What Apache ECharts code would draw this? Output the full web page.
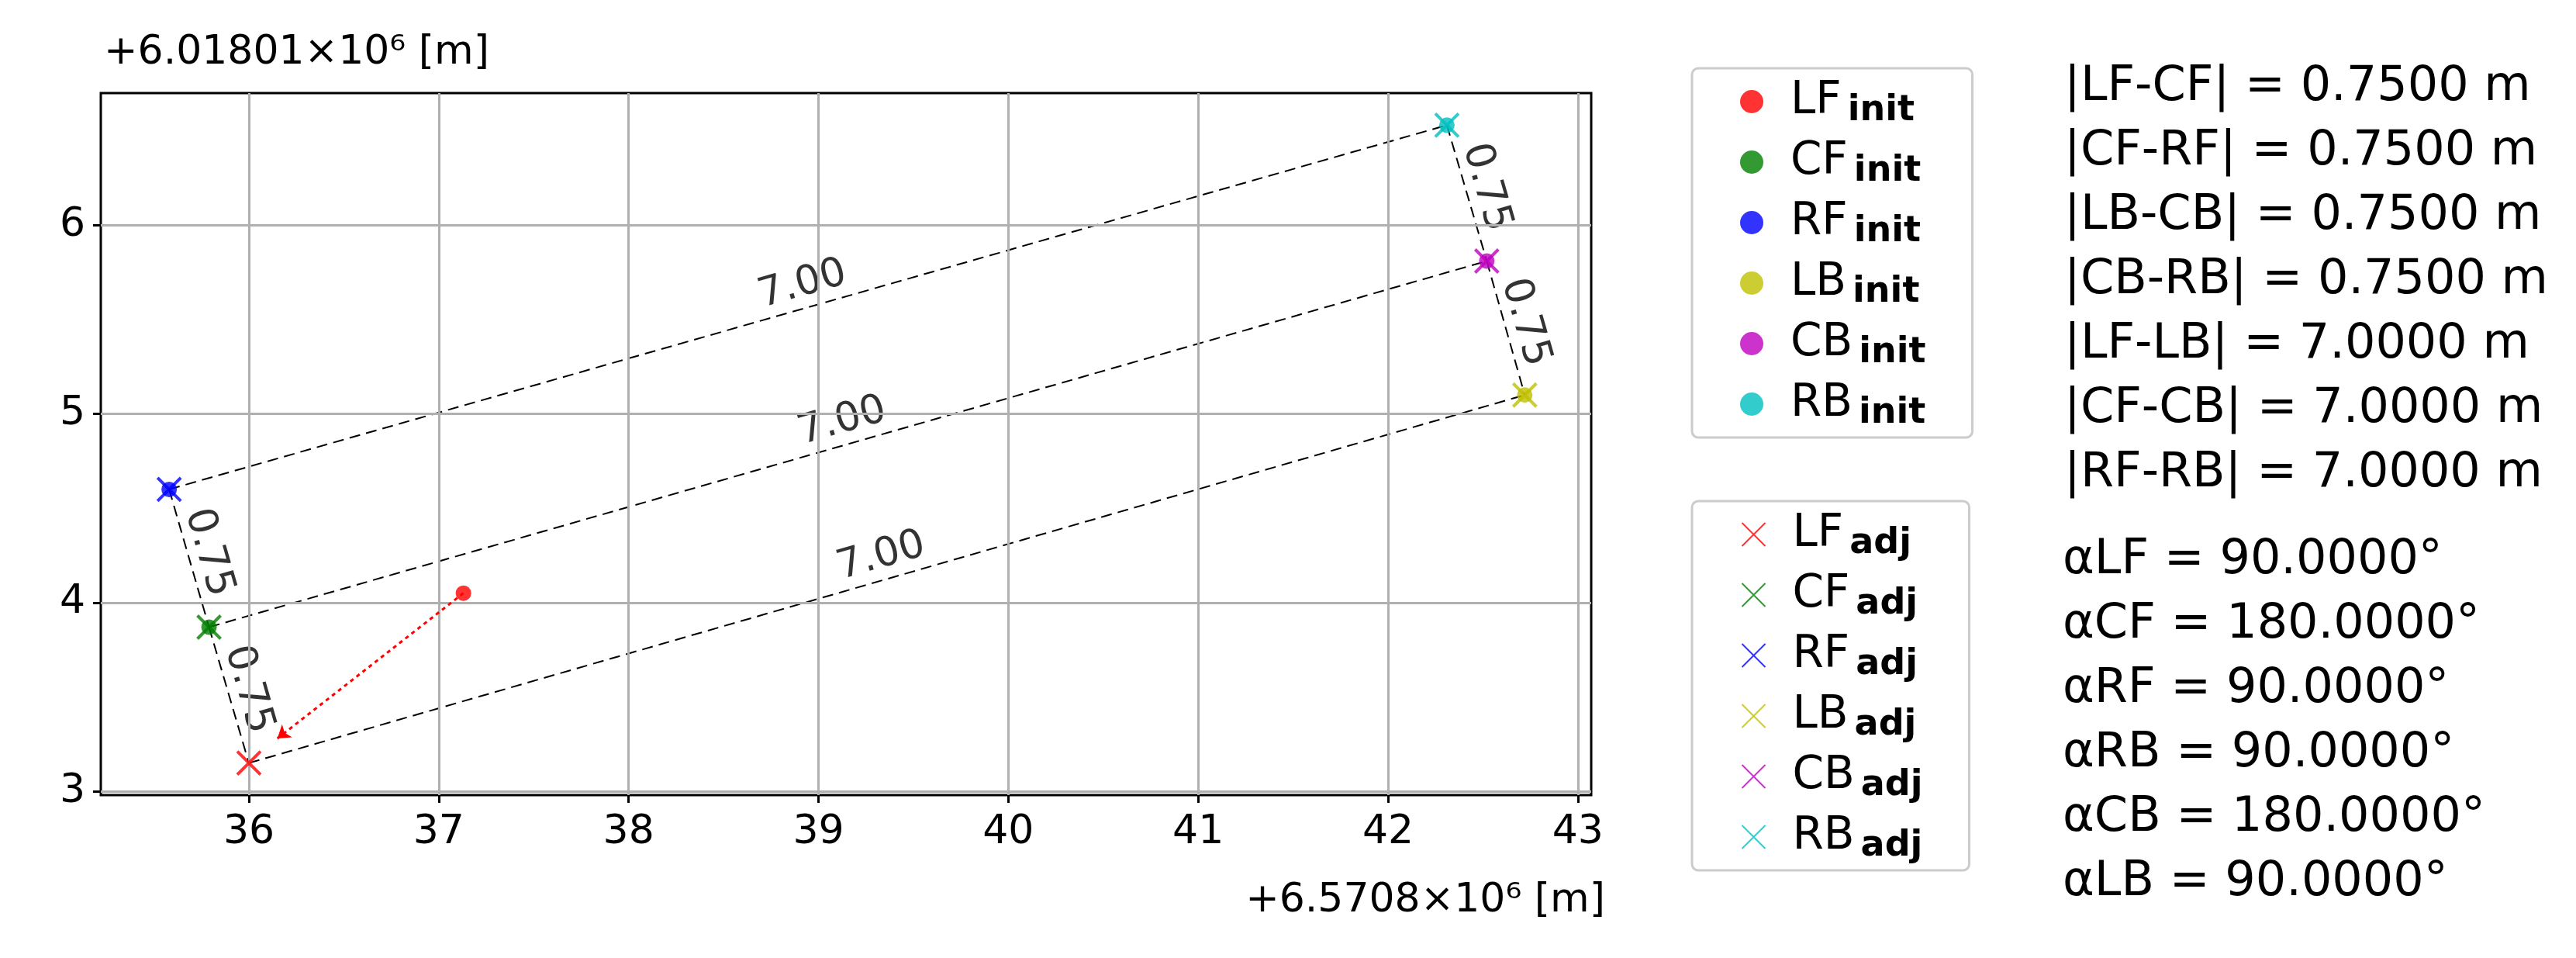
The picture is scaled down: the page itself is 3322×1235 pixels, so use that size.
<!DOCTYPE html>
<html><head><meta charset="utf-8">
<script src="https://cdn.jsdelivr.net/npm/echarts@6/dist/echarts.min.js"></script>
<style>html,body{margin:0;background:#fff}#c{width:3322px;height:1235px}</style>
</head><body><div id="c"></div>
<script>
// corner names and colours
const names = ['LF', 'CF', 'RF', 'LB', 'CB', 'RB'];
const colors = ['#ff0000', '#008000', '#0000ff', '#bfbf00', '#bf00bf', '#00bfbf'];
// adjusted positions (offset from +6.5708e6, +6.01801e6)
const adjX = [36.00, 35.79, 35.58, 42.72, 42.52, 42.31];
const adjY = [3.15, 3.87, 4.60, 5.10, 5.81, 6.53];
// initial positions
const initX = [37.13, 35.79, 35.58, 42.72, 42.52, 42.31];
const initY = [4.05, 3.87, 4.60, 5.10, 5.81, 6.53];
// arrow from LF init towards LF adj
const arrowFrom = [37.13, 4.05];
const arrowTo = [36.15, 3.28];
// tick values
const xTicks = [36, 37, 38, 39, 40, 41, 42, 43];
const yTicks = [3, 4, 5, 6];
// segments: [from index, to index, label]
const longSegs = [[2, 5, '7.00'], [1, 4, '7.00'], [0, 3, '7.00']];
const shortSegs = [[2, 1, '0.75'], [1, 0, '0.75'], [5, 4, '0.75'], [4, 3, '0.75']];
const distLines = ['|LF-CF| = 0.7500 m', '|CF-RF| = 0.7500 m', '|LB-CB| = 0.7500 m', '|CB-RB| = 0.7500 m',
  '|LF-LB| = 7.0000 m', '|CF-CB| = 7.0000 m', '|RF-RB| = 7.0000 m'];
const angleLines = ['αLF = 90.0000°', 'αCF = 180.0000°', 'αRF = 90.0000°', 'αRB = 90.0000°',
  'αCB = 180.0000°', 'αLB = 90.0000°'];

const font = 'DejaVu Sans';
const xPath = 'path://M0,0L10,10M10,0L0,10';
var chart = echarts.init(document.getElementById('c'));

const series = [];
// grid lines at the tick values
series.push({
  type: 'line', silent: true, symbol: 'none', data: [], z: 1,
  markLine: {
    silent: true, symbol: 'none', label: { show: false },
    lineStyle: { color: '#b0b0b0', width: 3, type: 'solid' },
    data: xTicks.map(v => ({ xAxis: v })).concat(yTicks.map(v => ({ yAxis: v })))
  }
});
// dashed connecting lines
longSegs.concat(shortSegs).forEach(s => {
  series.push({
    type: 'line', silent: true, symbol: 'none', z: 2,
    data: [[adjX[s[0]], adjY[s[0]]], [adjX[s[1]], adjY[s[1]]]],
    lineStyle: { color: '#000', width: 2, type: [14, 8] }
  });
});
// segment labels at midpoints
const labelData = [];
longSegs.forEach(s => labelData.push({ value: [(adjX[s[0]] + adjX[s[1]]) / 2, (adjY[s[0]] + adjY[s[1]]) / 2],
  label: { rotate: 16, position: 'top', distance: 4, formatter: s[2] } }));
shortSegs.forEach(s => labelData.push({ value: [(adjX[s[0]] + adjX[s[1]]) / 2, (adjY[s[0]] + adjY[s[1]]) / 2],
  label: { rotate: -74, position: 'right', distance: 0, align: 'center', verticalAlign: 'bottom', formatter: s[2] } }));
series.push({
  type: 'scatter', silent: true, symbolSize: 0, z: 3, data: labelData,
  label: { show: true, color: '#000', fontSize: 52, fontFamily: font }
});
// init points
names.forEach((n, i) => series.push({
  name: n + '_init', type: 'scatter', symbol: 'circle', symbolSize: 20, z: 4,
  data: [[initX[i], initY[i]]], itemStyle: { color: colors[i] }
}));
// adjusted points
names.forEach((n, i) => series.push({
  name: n + '_adj', type: 'scatter', symbol: xPath, symbolSize: 30, z: 5,
  data: [[adjX[i], adjY[i]]],
  itemStyle: { color: 'none', borderColor: colors[i], borderWidth: 4 }
}));
// arrow
series.push({
  type: 'line', silent: true, symbol: 'none', data: [], z: 6,
  markLine: {
    silent: true, symbol: ['none', 'arrow'], symbolSize: 16, label: { show: false },
    lineStyle: { color: '#ff0000', width: 3, type: [5, 5] },
    data: [[{ coord: arrowFrom }, { coord: arrowTo }]]
  }
});

const rich = {
  n: { fontSize: 58, fontFamily: font, color: '#000', padding: [0, 0, 0, 30] },
  s: { fontSize: 46, fontFamily: font, fontWeight: 'bold', color: '#000', padding: [24, 0, 0, 8] }
};
function legendOf(suffix, top, icon) {
  return {
    orient: 'vertical', left: 2182, top: top, width: 370, height: 560,
    padding: [14, 60, 8, 62], itemGap: 14, itemWidth: 30, itemHeight: 30,
    borderColor: '#cccccc', borderWidth: 3, borderRadius: 8,
    data: names.map(n => ({ name: n + suffix, icon: icon })),
    formatter: nm => '{n|' + nm.split('_')[0] + '}{s|' + nm.split('_')[1] + '}',
    textStyle: { rich: rich }
  };
}

const graphics = [];
distLines.forEach((t, i) => graphics.push({ type: 'text', left: 2662, top: 82 + i * 83,
  style: { text: t, font: '62px ' + font, fill: '#000' } }));
angleLines.forEach((t, i) => graphics.push({ type: 'text', left: 2660, top: 692 + i * 83,
  style: { text: t, font: '62px ' + font, fill: '#000' } }));
graphics.push({ type: 'text', left: 134, top: 42, style: { text: '+6.01801×10⁶ [m]', font: '52px ' + font, fill: '#000' } });
graphics.push({ type: 'text', right: 3322 - 2070, top: 1135, style: { text: '+6.5708×10⁶ [m]', font: '52px ' + font, fill: '#000' } });

var option = {
  backgroundColor: '#fff',
  animation: false,
  grid: { left: 130, top: 120, width: 1922, height: 905, show: true, borderColor: '#000', borderWidth: 3, containLabel: false },
  xAxis: {
    type: 'value', min: 35.22, max: 43.07,
    axisLine: { show: false },
    axisTick: { length: 10, customValues: xTicks, lineStyle: { color: '#000', width: 3 } },
    axisLabel: { fontSize: 52, fontFamily: font, color: '#000', margin: 22, customValues: xTicks },
    splitLine: { show: false }
  },
  yAxis: {
    type: 'value', min: 2.98, max: 6.70,
    axisLine: { show: false },
    axisTick: { length: 10, customValues: yTicks, lineStyle: { color: '#000', width: 3 } },
    axisLabel: { fontSize: 52, fontFamily: font, color: '#000', margin: 20, customValues: yTicks },
    splitLine: { show: false }
  },
  legend: [legendOf('_init', 88, 'circle'), legendOf('_adj', 646, xPath)],
  graphic: graphics,
  series: series
};
chart.setOption(option);
</script></body></html>
